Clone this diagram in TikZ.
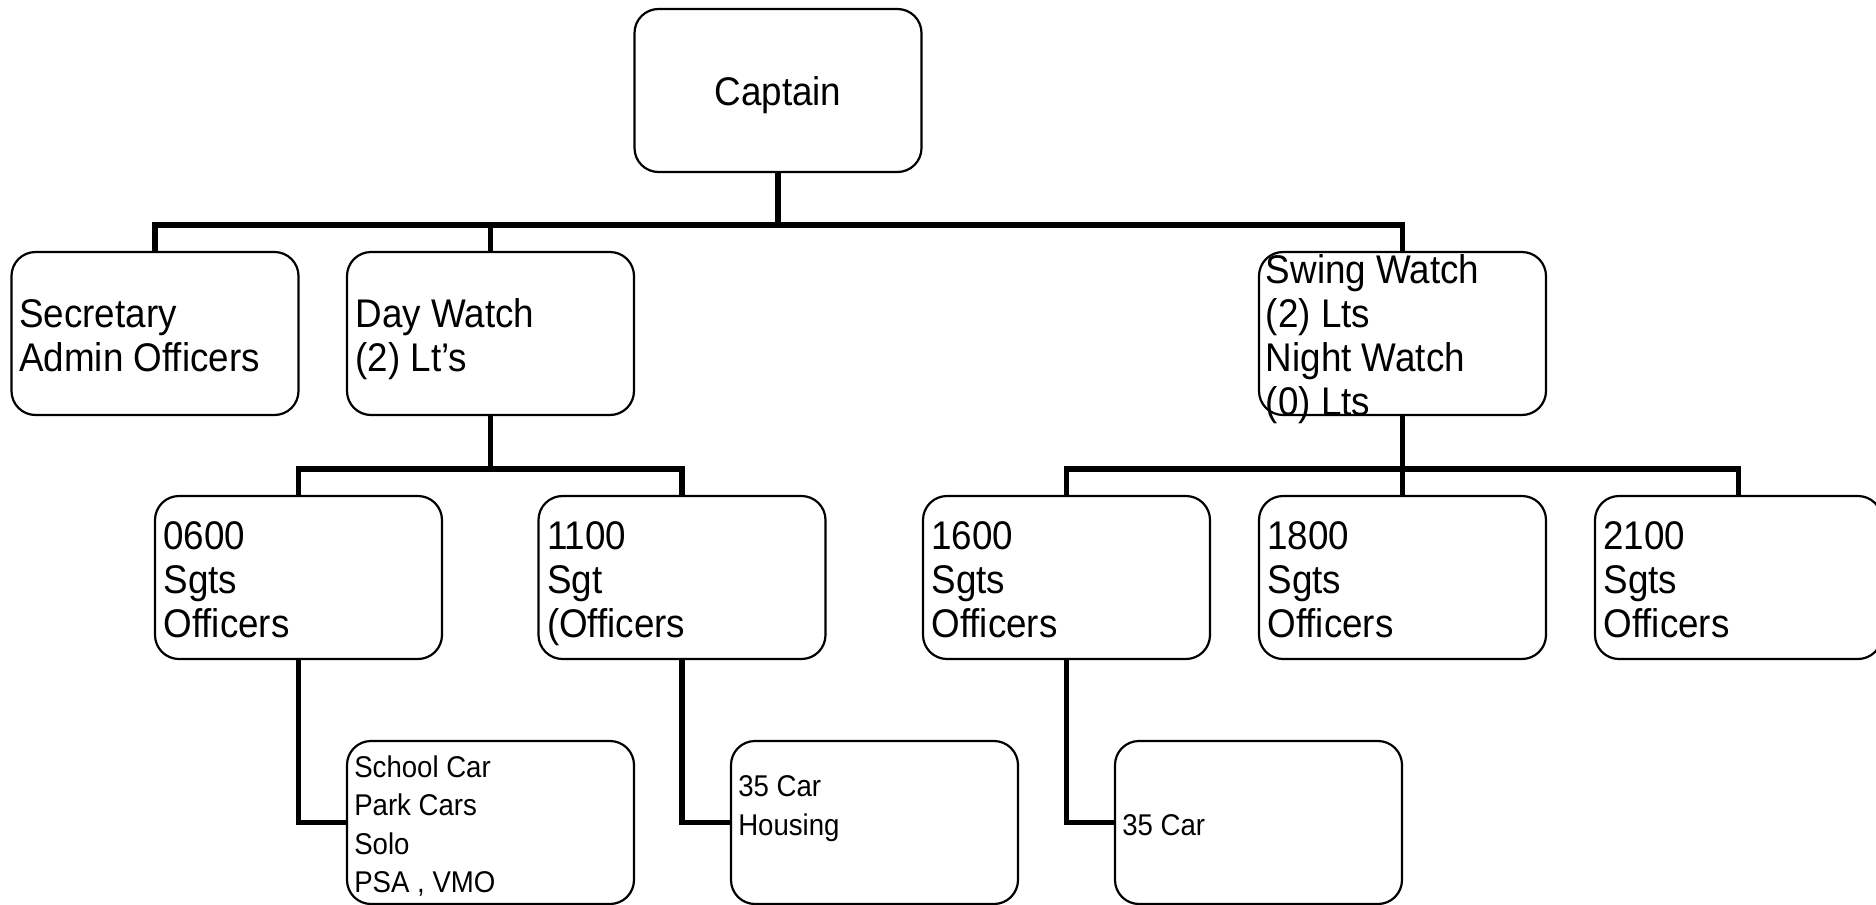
\documentclass[tikz,border=0pt]{standalone}
\usepackage{fontspec}
\setmainfont{Liberation Sans}[FakeStretch=0.92]
\begin{document}
\begin{tikzpicture}[x=0.5pt,y=-0.5pt,
  box/.style={draw=black,line width=1.1pt,rounded corners=12pt,minimum width=143.5pt,minimum height=81.5pt,inner sep=0pt,fill=white},
  bigtxt/.style={font=\fontsize{20}{22}\selectfont,align=left,inner sep=0pt,anchor=west},
  smalltxt/.style={font=\fontsize{15}{19.3}\selectfont,align=left,inner sep=0pt,anchor=west},
  conn/.style={draw=black,line width=2.8pt,line join=miter}]
\useasboundingbox (0,0) rectangle (1876,905);
\clip (0,0) rectangle (1876,905);
% boxes
\node[box] (cap) at (778,90.5) {};
\node[box] (sec) at (155,333.5) {};
\node[box] (day) at (490.5,333.5) {};
\node[box] (swing) at (1402.5,333.5) {};
\node[box] (s0600) at (298.5,577.5) {};
\node[box] (s1100) at (682,577.5) {};
\node[box] (s1600) at (1066.5,577.5) {};
\node[box] (s1800) at (1402.5,577.5) {};
\node[box] (s2100) at (1738.5,577.5) {};
\node[box] (school) at (490.5,822.5) {};
\node[box] (housing) at (874.5,822.5) {};
\node[box] (car35) at (1258.5,822.5) {};
% connector junctions
\coordinate (bar1) at (778,225);
\coordinate (bar2) at (490.5,469);
\coordinate (bar3) at (1402.5,469);
% connectors
\draw[conn] (cap.south) -- (bar1);
\draw[conn] (sec.north) |- (bar1) -| (swing.north);
\draw[conn] (day.north) -- (day.north |- bar1);
\draw[conn] (day.south) -- (bar2);
\draw[conn] (s0600.north) |- (bar2) -| (s1100.north);
\draw[conn] (swing.south) -- (bar3);
\draw[conn] (s1600.north) |- (bar3) -| (s2100.north);
\draw[conn] (s1800.north) -- (s1800.north |- bar3);
\draw[conn] (s0600.south) |- (school.west);
\draw[conn] (s1100.south) |- (housing.west);
\draw[conn] (s1600.south) |- (car35.west);
% texts
\node[font=\fontsize{20}{22}\selectfont,inner sep=0pt] (capt) at ([yshift=-2.4pt]cap.center) {Captain};
\node[bigtxt] (sect) at ([xshift=4.2pt,yshift=-3.6pt]sec.west) {\strut Secretary\\\strut Admin Officers};
\node[bigtxt] (dayt) at ([xshift=4.6pt,yshift=-3.6pt]day.west) {\strut Day Watch\\\strut (2) Lt’s};
\node[bigtxt] (swingt) at ([xshift=3.8pt,yshift=-3.6pt]swing.west) {\strut Swing Watch\\\strut (2) Lts\\\strut Night Watch\\\strut (0) Lts};
\node[bigtxt] (s0600t) at ([xshift=4.6pt,yshift=-3.6pt]s0600.west) {\strut 0600\\\strut Sgts\\\strut Officers};
\node[bigtxt] (s1100t) at ([xshift=4.6pt,yshift=-3.6pt]s1100.west) {\strut 1100\\\strut Sgt\\\strut (Officers};
\node[bigtxt] (s1600t) at ([xshift=4.6pt,yshift=-3.6pt]s1600.west) {\strut 1600\\\strut Sgts\\\strut Officers};
\node[bigtxt] (s1800t) at ([xshift=4.6pt,yshift=-3.6pt]s1800.west) {\strut 1800\\\strut Sgts\\\strut Officers};
\node[bigtxt] (s2100t) at ([xshift=4.6pt,yshift=-3.6pt]s2100.west) {\strut 2100\\\strut Sgts\\\strut Officers};
\node[smalltxt] (schoolt) at ([xshift=4pt,yshift=-1.8pt]school.west) {School Car\\Park Cars\\Solo\\PSA , VMO};
\node[smalltxt] (housingt) at ([xshift=4pt,yshift=6.9pt]housing.west) {35 Car\\Housing};
\node[smalltxt] (car35t) at ([xshift=4pt,yshift=-1.2pt]car35.west) {35 Car};
\end{tikzpicture}
\end{document}
